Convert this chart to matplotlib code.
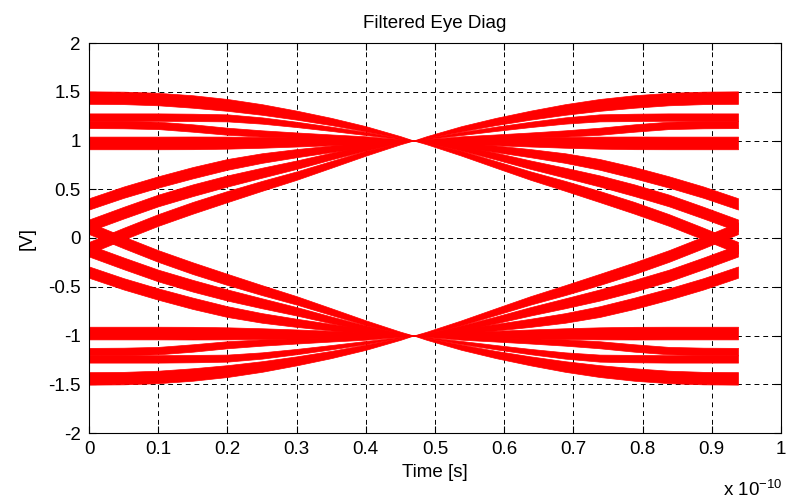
import numpy as np
import matplotlib.pyplot as plt

plt.rcParams['font.family'] = ['Liberation Sans', 'DejaVu Sans']

# sample times of the left half of the eye, in units of 1e-10 s
# (right half is the mirror image around the eye centre)
t_half = [0, 0.05, 0.1, 0.15, 0.2, 0.25, 0.3, 0.35, 0.4, 0.45, 0.469]
t_period = 0.938

# centre of each band of traces [V] read at t_half; all meet at +1 in the centre
band_a = [1.44, 1.437, 1.425, 1.40, 1.365, 1.318, 1.26, 1.195, 1.12, 1.035, 1.0]
band_b = [1.24, 1.24, 1.24, 1.237, 1.232, 1.205, 1.165, 1.12, 1.072, 1.02, 1.0]
band_c = [1.165, 1.163, 1.155, 1.128, 1.095, 1.072, 1.055, 1.04, 1.027, 1.008, 1.0]
band_d = [0.975, 0.975, 0.975, 0.976, 0.978, 0.981, 0.985, 0.989, 0.993, 0.998, 1.0]
band_e = [0.35, 0.47, 0.575, 0.67, 0.755, 0.82, 0.87, 0.915, 0.955, 0.99, 1.0]
band_f = [0.13, 0.26, 0.385, 0.49, 0.585, 0.67, 0.752, 0.84, 0.922, 0.985, 1.0]
band_g = [-0.10, 0.045, 0.185, 0.31, 0.425, 0.535, 0.64, 0.755, 0.87, 0.97, 1.0]
bands = [band_a, band_b, band_c, band_d, band_e, band_f, band_g]
# spread of each band at the edges [V]
spread = [0.064, 0.038, 0.038, 0.065, 0.058, 0.06, 0.06]
# how the spread shrinks towards the crossing point
taper = [1, 1, 1, 1, 0.95, 0.85, 0.72, 0.58, 0.42, 0.15, 0]

fig = plt.figure(figsize=(7.9, 5), dpi=100)
ax = fig.add_axes([0.1127, 0.134, 0.8758, 0.78])

t = np.array(t_half)
tp = np.array(taper)
for vals, w in zip(bands, spread):
    v = np.array(vals)
    for sign in (1, -1):
        lo = sign * v - w * tp
        hi = sign * v + w * tp
        ax.fill_between(t, lo, hi, color='red', lw=0.5, edgecolor='red')
        ax.fill_between(t_period - t, lo, hi, color='red', lw=0.5, edgecolor='red')

ax.set_xlim(0, 1)
ax.set_ylim(-2, 2)
xt = np.arange(0, 1.01, 0.1)
yt = np.arange(-2, 2.01, 0.5)
ax.set_xticks(xt)
ax.set_yticks(yt)
ax.set_xticklabels(['%g' % round(x, 1) for x in xt])
ax.set_yticklabels(['%g' % y for y in yt])
ax.set_axisbelow(True)
ax.grid(True, color='black', linestyle=(0, (5, 4)), linewidth=0.7)
ax.tick_params(direction='in', top=True, right=True, length=5, width=0.8,
               labelsize=13.5, pad=6, colors='black')
for s in ax.spines.values():
    s.set_linewidth(0.8)

ax.set_title('Filtered Eye Diag', fontsize=13.5, pad=11)
ax.set_xlabel('Time [s]', fontsize=13.5, labelpad=4)
ax.set_ylabel('[V]', fontsize=13.5, labelpad=9)
fig.text(0.915, 0.008, r'x 10$^{\mathregular{-10}}$', fontsize=13.5,
         ha='left', va='baseline')

fig.savefig('out.png', dpi=100)
